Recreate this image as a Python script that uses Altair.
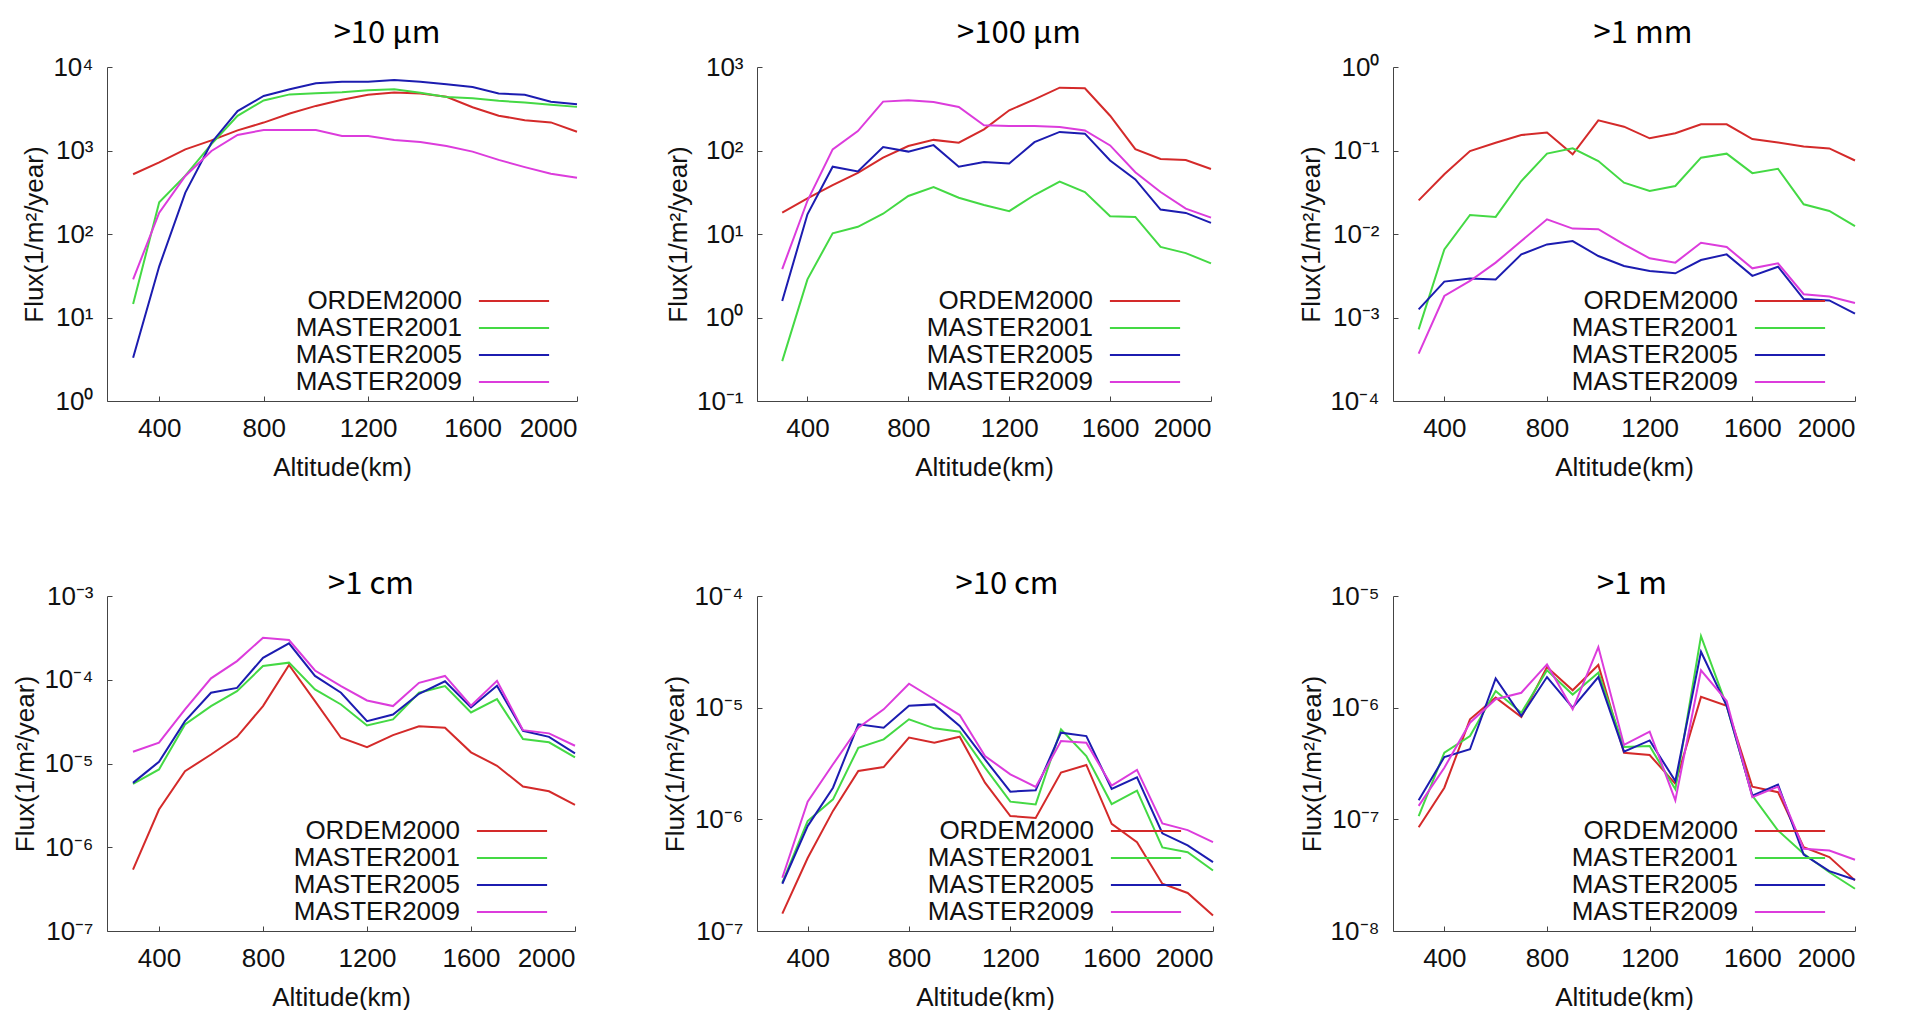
import altair as alt
import pandas as pd

# ---------------- data ----------------
ALTITUDE = [300, 400, 500, 600, 700, 800, 900, 1000, 1100, 1200,
            1300, 1400, 1500, 1600, 1700, 1800, 1900, 2000]
SERIES = ["ORDEM2000", "MASTER2001", "MASTER2005", "MASTER2009"]
COLORS = ["#d42a2a", "#44d944", "#1c1cb0", "#dc3cdc"]

# >10 um
P1_ORDEM2000 = [520, 720, 1030, 1320, 1740, 2160, 2770, 3420, 4050, 4650, 4940, 4800, 4400, 3300, 2610, 2310, 2170, 1680]
P1_MASTER2001 = [14.5, 240, 500, 1190, 2600, 3980, 4700, 4850, 5000, 5250, 5400, 4930, 4370, 4220, 3940, 3760, 3520, 3330]
P1_MASTER2005 = [3.3, 41, 313, 1240, 2970, 4500, 5400, 6370, 6670, 6670, 6980, 6670, 6200, 5760, 4810, 4640, 3830, 3590]
P1_MASTER2009 = [28.6, 180, 495, 986, 1535, 1760, 1760, 1760, 1490, 1490, 1340, 1265, 1133, 969, 772, 632, 526, 471]

# >100 um
P2_ORDEM2000 = [18, 26.7, 38.6, 54, 82, 113, 134, 124, 179, 303, 410, 565, 555, 261, 104, 79, 77, 60]
P2_MASTER2001 = [0.30, 2.86, 10.2, 12.2, 17.5, 28.5, 36.5, 27.2, 22.2, 18.8, 29.3, 42.4, 31.8, 16.3, 16.0, 7.0, 5.9, 4.45]
P2_MASTER2005 = [1.58, 17.2, 64, 56, 110, 97, 116, 64, 73, 70, 126, 167, 159, 76, 45, 19.6, 17.9, 13.6]
P2_MASTER2009 = [3.8, 25, 103, 171, 385, 399, 381, 332, 200, 196, 196, 191, 174, 115, 55, 31.8, 20.1, 15.7]

# >1 mm
P3_ORDEM2000 = [0.0253, 0.0519, 0.0986, 0.124, 0.153, 0.164, 0.090, 0.23, 0.193, 0.14, 0.161, 0.206, 0.206, 0.137, 0.125, 0.112, 0.106, 0.0759]
P3_MASTER2001 = [0.00072, 0.00655, 0.0169, 0.016, 0.0431, 0.0917, 0.106, 0.0748, 0.0412, 0.0327, 0.0376, 0.082, 0.0917, 0.0536, 0.0604, 0.0227, 0.0189, 0.0124]
P3_MASTER2005 = [0.00125, 0.00269, 0.00294, 0.00286, 0.0057, 0.0075, 0.00824, 0.00545, 0.00414, 0.0036, 0.00338, 0.00488, 0.0057, 0.00315, 0.00406, 0.00166, 0.0016, 0.00111]
P3_MASTER2009 = [0.00037, 0.00181, 0.00274, 0.00454, 0.00824, 0.015, 0.0116, 0.0114, 0.0075, 0.00511, 0.00454, 0.00787, 0.00699, 0.00388, 0.00445, 0.0019, 0.00178, 0.00149]

# >1 cm
P4_ORDEM2000 = [5.4e-7, 2.82e-6, 8.1e-6, 1.28e-5, 2.08e-5, 4.85e-5, 1.5e-4, 5.56e-5, 2.03e-5, 1.57e-5, 2.18e-5, 2.79e-5, 2.67e-5, 1.36e-5, 9.4e-6, 5.3e-6, 4.66e-6, 3.2e-6]
P4_MASTER2001 = [5.7e-6, 8.5e-6, 2.92e-5, 4.85e-5, 7.3e-5, 1.46e-4, 1.6e-4, 7.66e-5, 5.07e-5, 2.84e-5, 3.36e-5, 7.0e-5, 8.4e-5, 4.07e-5, 5.87e-5, 1.96e-5, 1.79e-5, 1.18e-5]
P4_MASTER2005 = [5.87e-6, 1.05e-5, 3.2e-5, 7.0e-5, 8.0e-5, 1.83e-4, 2.72e-4, 1.11e-4, 7.0e-5, 3.2e-5, 3.85e-5, 6.8e-5, 9.6e-5, 4.67e-5, 8.5e-5, 2.46e-5, 2.08e-5, 1.32e-5]
P4_MASTER2009 = [1.38e-5, 1.77e-5, 4.42e-5, 1.04e-4, 1.67e-4, 3.18e-4, 2.98e-4, 1.29e-4, 8.4e-5, 5.66e-5, 4.85e-5, 9.2e-5, 1.11e-4, 4.89e-5, 9.7e-5, 2.5e-5, 2.29e-5, 1.63e-5]

# >10 cm
P5_ORDEM2000 = [1.43e-7, 4.5e-7, 1.19e-6, 2.71e-6, 2.94e-6, 5.39e-6, 4.86e-6, 5.5e-6, 2.13e-6, 1.07e-6, 1.03e-6, 2.62e-6, 3.07e-6, 9.1e-7, 6.25e-7, 2.65e-7, 2.19e-7, 1.38e-7]
P5_MASTER2001 = [2.71e-7, 9.66e-7, 1.51e-6, 4.38e-6, 5.2e-6, 7.87e-6, 6.53e-6, 6.1e-6, 2.9e-6, 1.44e-6, 1.36e-6, 6.4e-6, 3.69e-6, 1.37e-6, 1.81e-6, 5.6e-7, 5.08e-7, 3.48e-7]
P5_MASTER2005 = [2.65e-7, 8.7e-7, 1.92e-6, 7.1e-6, 6.62e-6, 1.04e-5, 1.07e-5, 6.86e-6, 3.44e-6, 1.77e-6, 1.82e-6, 5.97e-6, 5.57e-6, 1.87e-6, 2.38e-6, 7.5e-7, 5.84e-7, 4.14e-7]
P5_MASTER2009 = [3.0e-7, 1.44e-6, 3.11e-6, 6.62e-6, 9.66e-6, 1.64e-5, 1.19e-5, 8.59e-6, 3.69e-6, 2.53e-6, 1.95e-6, 5.02e-6, 4.86e-6, 2.0e-6, 2.77e-6, 9.2e-7, 8.0e-7, 6.25e-7]

# >1 m
P6_ORDEM2000 = [8.5e-8, 1.92e-7, 7.87e-7, 1.23e-6, 8.24e-7, 2.31e-6, 1.43e-6, 2.41e-6, 3.95e-7, 3.77e-7, 2.08e-7, 1.25e-6, 1.04e-6, 1.96e-7, 1.75e-7, 5.63e-8, 4.59e-8, 2.84e-8]
P6_MASTER2001 = [1.07e-7, 3.95e-7, 5.57e-7, 1.41e-6, 9.0e-7, 2.16e-6, 1.31e-6, 2.06e-6, 4.45e-7, 4.54e-7, 1.86e-7, 4.38e-6, 1.04e-6, 1.63e-7, 7.94e-8, 4.91e-8, 3.36e-8, 2.39e-8]
P6_MASTER2005 = [1.48e-7, 3.61e-7, 4.24e-7, 1.83e-6, 8.41e-7, 1.88e-6, 1.0e-6, 1.88e-6, 4.04e-7, 5.09e-7, 2.2e-7, 3.17e-6, 1.04e-6, 1.63e-7, 2.05e-7, 4.84e-8, 3.44e-8, 2.88e-8]
P6_MASTER2009 = [1.32e-7, 2.9e-7, 7.34e-7, 1.19e-6, 1.36e-6, 2.44e-6, 9.66e-7, 3.49e-6, 4.64e-7, 6.1e-7, 1.48e-7, 2.16e-6, 1.15e-6, 1.58e-7, 1.96e-7, 5.44e-8, 5.26e-8, 4.35e-8]

TITLES = [">10 μm", ">100 μm", ">1 mm", ">1 cm", ">10 cm", ">1 m"]
X_TICKS = [400, 800, 1200, 1600, 2000]
X_DOMAIN = [200, 2000]

Y_TICKS = [
    [1, 10, 100, 1000, 10000],
    [0.1, 1, 10, 100, 1000],
    [1e-4, 1e-3, 1e-2, 1e-1, 1],
    [1e-7, 1e-6, 1e-5, 1e-4, 1e-3],
    [1e-7, 1e-6, 1e-5, 1e-4],
    [1e-8, 1e-7, 1e-6, 1e-5],
]
Y_TICK_LABELS = [
    ["10⁰", "10¹", "10²", "10³", "10⁴"],
    ["10⁻¹", "10⁰", "10¹", "10²", "10³"],
    ["10⁻⁴", "10⁻³", "10⁻²", "10⁻¹", "10⁰"],
    ["10⁻⁷", "10⁻⁶", "10⁻⁵", "10⁻⁴", "10⁻³"],
    ["10⁻⁷", "10⁻⁶", "10⁻⁵", "10⁻⁴"],
    ["10⁻⁸", "10⁻⁷", "10⁻⁶", "10⁻⁵"],
]

PANEL_SERIES = [
    [P1_ORDEM2000, P1_MASTER2001, P1_MASTER2005, P1_MASTER2009],
    [P2_ORDEM2000, P2_MASTER2001, P2_MASTER2005, P2_MASTER2009],
    [P3_ORDEM2000, P3_MASTER2001, P3_MASTER2005, P3_MASTER2009],
    [P4_ORDEM2000, P4_MASTER2001, P4_MASTER2005, P4_MASTER2009],
    [P5_ORDEM2000, P5_MASTER2001, P5_MASTER2005, P5_MASTER2009],
    [P6_ORDEM2000, P6_MASTER2001, P6_MASTER2005, P6_MASTER2009],
]

# ---------------- layout / style ----------------
WIDTHS = [470, 454, 462, 468, 456, 462]
HEIGHTS = [334, 334, 334, 335, 335, 335]
TITLE_DX = [45, 35, 19, 30, 22, 8]
TITLE_DY = [20, 20, 20, 42, 42, 42]
LEGEND_X = [393, 374, 383, 391, 375, 383]
LEGEND_Y = [220, 220, 220, 221, 221, 221]

FONT = "Liberation Sans"
TITLE_FONT = "Noto Sans CJK JP"
LEGEND_LINE = "M-2.7,0L2.7,0"


def label_expr(ticks, labels):
    expr = "'" + labels[-1] + "'"
    for t, lab in reversed(list(zip(ticks[:-1], labels[:-1]))):
        expr = f"datum.value < {t * 3.1623!r} ? '{lab}' : " + expr
    return expr


panels = []
for i in range(6):
    rows = []
    for name, vals in zip(SERIES, PANEL_SERIES[i]):
        for a, v in zip(ALTITUDE, vals):
            rows.append({"altitude": a, "flux": v, "model": name})
    df = pd.DataFrame(rows)
    ticks = Y_TICKS[i]
    ch = alt.Chart(df).mark_line(strokeWidth=2).encode(
        x=alt.X("altitude:Q",
                scale=alt.Scale(domain=X_DOMAIN, nice=False, zero=False),
                axis=alt.Axis(values=X_TICKS, title="Altitude(km)", format="d")),
        y=alt.Y("flux:Q",
                scale=alt.Scale(type="log", domain=[ticks[0], ticks[-1]], nice=False),
                axis=alt.Axis(values=ticks, title="Flux(1/m²/year)",
                              labelExpr=label_expr(ticks, Y_TICK_LABELS[i]))),
        color=alt.Color("model:N",
                        scale=alt.Scale(domain=SERIES, range=COLORS),
                        sort=SERIES,
                        legend=alt.Legend(orient="none", legendX=LEGEND_X[i],
                                          legendY=LEGEND_Y[i], title=None)),
        order=alt.Order("altitude:Q"),
    ).properties(
        width=WIDTHS[i], height=HEIGHTS[i],
        title=alt.TitleParams(text=TITLES[i], font=TITLE_FONT, fontSize=31,
                              fontWeight="normal", color="#000000",
                              anchor="middle", frame="group",
                              baseline="alphabetic", offset=0,
                              dx=TITLE_DX[i], dy=TITLE_DY[i]),
    )
    panels.append(ch)

chart = alt.concat(
    *panels, columns=3, spacing={"row": 195, "column": 180}
).properties(
    bounds="flush", align="each", background="white",
    padding={"left": 4, "top": 10, "right": 5, "bottom": 0}
).resolve_scale(
    color="independent", x="independent", y="independent"
).resolve_legend(
    color="independent"
).configure_view(
    stroke=None
).configure_axis(
    grid=False,
    domainColor="#444444", tickColor="#444444", tickSize={"expr": "-5"},
    labelFont=FONT, labelFontSize=26, labelColor="#111111",
    titleFont=FONT, titleFontSize=26, titleFontWeight="normal", titleColor="#111111",
).configure_axisX(
    labelPadding=19, titlePadding=13,
).configure_axisY(
    labelPadding=19, titlePadding=5,
).configure_legend(
    symbolType=LEGEND_LINE, symbolSize=676, symbolStrokeWidth=2,
    labelAlign="right", labelOffset={"expr": "-66"}, labelFont=FONT, labelFontSize=26,
    labelColor="#111111", labelLimit=400, rowPadding=0, padding=0,
)

chart.save("out.html", embed_options={"renderer": "svg", "actions": False})
